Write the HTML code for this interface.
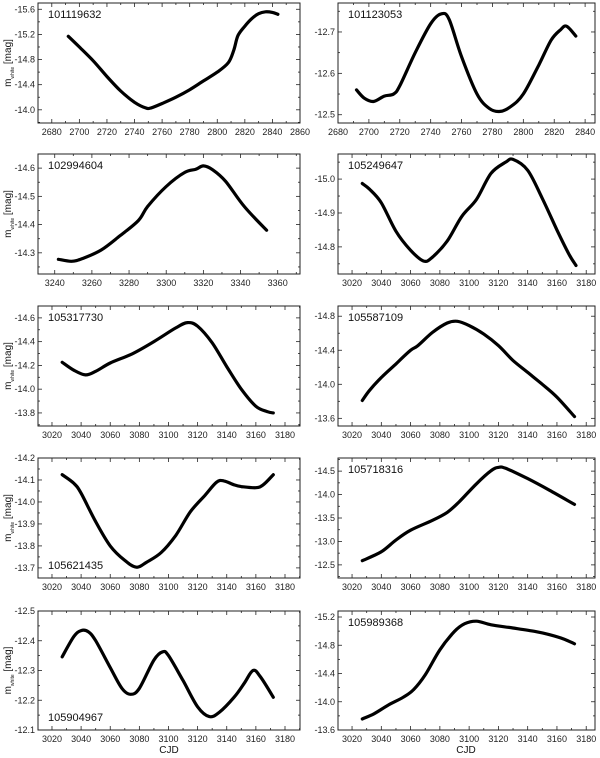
<!DOCTYPE html>
<html><head><meta charset="utf-8"><style>
html,body{margin:0;padding:0;background:#fff}
svg{display:block;font-family:"Liberation Sans",sans-serif}
</style></head><body>
<svg id="chart" width="600" height="758" viewBox="0 0 600 758"></svg>
<script>
const ids = ["101119632","101123053","102994604","105249647","105317730","105587109","105621435","105718316","105904967","105989368"];
const p1Cjd = [2692,2700,2710,2720,2730,2740,2748,2752,2760,2770,2780,2790,2800,2808,2812,2815,2820,2825,2830,2835,2840,2844];
const p1Mag = [-15.17,-15.0,-14.78,-14.53,-14.3,-14.12,-14.03,-14.03,-14.1,-14.2,-14.32,-14.46,-14.6,-14.75,-14.95,-15.18,-15.33,-15.45,-15.53,-15.56,-15.55,-15.52];
const p2Cjd = [2692,2697,2703,2710,2716,2720,2730,2740,2747,2752,2760,2770,2778,2785,2792,2800,2810,2818,2824,2828,2834];
const p2Mag = [-12.56,-12.54,-12.532,-12.545,-12.55,-12.57,-12.65,-12.72,-12.744,-12.73,-12.64,-12.55,-12.515,-12.508,-12.52,-12.55,-12.62,-12.68,-12.705,-12.714,-12.69];
const p3Cjd = [3242,3249,3255,3265,3275,3285,3290,3300,3310,3316,3320,3325,3332,3342,3354];
const p3Mag = [-14.277,-14.27,-14.28,-14.31,-14.36,-14.414,-14.464,-14.535,-14.585,-14.596,-14.608,-14.594,-14.553,-14.464,-14.38];
const p4Cjd = [3027,3032,3040,3050,3060,3069,3075,3085,3095,3105,3115,3125,3130,3140,3150,3160,3168,3173];
const p4Mag = [-14.987,-14.97,-14.93,-14.846,-14.79,-14.758,-14.77,-14.817,-14.89,-14.94,-15.017,-15.05,-15.058,-15.026,-14.943,-14.85,-14.78,-14.745];
const p5Cjd = [3027,3035,3043,3050,3060,3075,3090,3105,3113,3120,3130,3140,3150,3160,3168,3172];
const p5Mag = [-14.226,-14.16,-14.12,-14.15,-14.22,-14.297,-14.40,-14.516,-14.56,-14.53,-14.39,-14.19,-14.0,-13.856,-13.81,-13.8];
const p6Cjd = [3027,3032,3040,3050,3060,3065,3075,3085,3092,3100,3110,3120,3130,3140,3150,3160,3172];
const p6Mag = [-13.81,-13.93,-14.08,-14.24,-14.40,-14.455,-14.61,-14.72,-14.74,-14.69,-14.59,-14.455,-14.28,-14.14,-14.0,-13.85,-13.62];
const p7Cjd = [3027,3035,3040,3050,3060,3070,3078,3085,3095,3105,3115,3125,3133,3138,3145,3150,3160,3165,3172];
const p7Mag = [-14.124,-14.085,-14.04,-13.91,-13.80,-13.734,-13.703,-13.726,-13.77,-13.848,-13.955,-14.03,-14.09,-14.096,-14.078,-14.07,-14.065,-14.078,-14.124];
const p8Cjd = [3027,3040,3050,3060,3075,3085,3093,3105,3115,3120,3125,3140,3155,3172];
const p8Mag = [-12.59,-12.78,-13.03,-13.24,-13.45,-13.62,-13.84,-14.23,-14.51,-14.58,-14.56,-14.34,-14.09,-13.79];
const p9Cjd = [3027,3035,3040,3045,3050,3060,3068,3074,3080,3090,3096,3100,3110,3120,3128,3135,3145,3152,3158,3163,3172];
const p9Mag = [-12.346,-12.414,-12.434,-12.43,-12.40,-12.31,-12.24,-12.22,-12.24,-12.335,-12.363,-12.35,-12.266,-12.178,-12.145,-12.16,-12.21,-12.257,-12.30,-12.28,-12.21];
const p10Cjd = [3027,3035,3045,3055,3062,3070,3080,3090,3097,3105,3115,3130,3145,3155,3165,3172];
const p10Mag = [-13.756,-13.83,-13.955,-14.064,-14.17,-14.38,-14.736,-14.996,-15.105,-15.14,-15.09,-15.044,-14.996,-14.95,-14.886,-14.82];
const xTicksA = [2680,2700,2720,2740,2760,2780,2800,2820,2840,2860];
const xTicksB = [2680,2700,2720,2740,2760,2780,2800,2820,2840];
const xTicksC = [3240,3260,3280,3300,3320,3340,3360];
const xTicksD = [3020,3040,3060,3080,3100,3120,3140,3160,3180];
const yTicks1 = [-15.6,-15.2,-14.8,-14.4,-14.0];
const yTicks2 = [-12.7,-12.6,-12.5];
const yTicks3 = [-14.6,-14.5,-14.4,-14.3];
const yTicks4 = [-15.0,-14.9,-14.8];
const yTicks5 = [-14.6,-14.4,-14.2,-14.0,-13.8];
const yTicks6 = [-14.8,-14.4,-14.0,-13.6];
const yTicks7 = [-14.2,-14.1,-14.0,-13.9,-13.8,-13.7];
const yTicks8 = [-14.5,-14.0,-13.5,-13.0,-12.5];
const yTicks9 = [-12.5,-12.4,-12.3,-12.2,-12.1];
const yTicks10 = [-15.2,-14.8,-14.4,-14.0,-13.6];

const NS = "http://www.w3.org/2000/svg";
const svg = document.getElementById("chart");
function mk(tag, attrs, parent){const e=document.createElementNS(NS,tag);for(const k in attrs)e.setAttribute(k,attrs[k]);(parent||svg).appendChild(e);return e;}
function smoothPath(pts){
  let d="M"+pts[0][0].toFixed(1)+","+pts[0][1].toFixed(1);
  for(let i=0;i<pts.length-1;i++){
    const p0=pts[Math.max(0,i-1)],p1=pts[i],p2=pts[i+1],p3=pts[Math.min(pts.length-1,i+2)];
    const c1x=p1[0]+(p2[0]-p0[0])/6,c1y=p1[1]+(p2[1]-p0[1])/6;
    const c2x=p2[0]-(p3[0]-p1[0])/6,c2y=p2[1]-(p3[1]-p1[1])/6;
    d+=" C"+c1x.toFixed(1)+","+c1y.toFixed(1)+" "+c2x.toFixed(1)+","+c2y.toFixed(1)+" "+p2[0].toFixed(1)+","+p2[1].toFixed(1);
  }
  return d;
}

const tops=[3,154,306,458,611];
const panels=[
 {cjd:p1Cjd,mag:p1Mag,xd:[2670,2860],yd:[-15.7,-13.79],xt:xTicksA,yt:yTicks1,dec:1,lab:"top"},
 {cjd:p2Cjd,mag:p2Mag,xd:[2680,2846.4],yd:[-12.77,-12.48],xt:xTicksB,yt:yTicks2,dec:1,lab:"top"},
 {cjd:p3Cjd,mag:p3Mag,xd:[3231,3372],yd:[-14.65,-14.225],xt:xTicksC,yt:yTicks3,dec:1,lab:"top"},
 {cjd:p4Cjd,mag:p4Mag,xd:[3010.4,3186],yd:[-15.074,-14.72],xt:xTicksD,yt:yTicks4,dec:1,lab:"top"},
 {cjd:p5Cjd,mag:p5Mag,xd:[3010.4,3190.3],yd:[-14.70,-13.69],xt:xTicksD,yt:yTicks5,dec:1,lab:"top"},
 {cjd:p6Cjd,mag:p6Mag,xd:[3010.4,3186],yd:[-14.92,-13.51],xt:xTicksD,yt:yTicks6,dec:1,lab:"top"},
 {cjd:p7Cjd,mag:p7Mag,xd:[3010.4,3190.3],yd:[-14.2,-13.654],xt:xTicksD,yt:yTicks7,dec:1,lab:"bottom"},
 {cjd:p8Cjd,mag:p8Mag,xd:[3010.4,3186],yd:[-14.78,-12.22],xt:xTicksD,yt:yTicks8,dec:1,lab:"top"},
 {cjd:p9Cjd,mag:p9Mag,xd:[3010.4,3190.3],yd:[-12.5,-12.1],xt:xTicksD,yt:yTicks9,dec:1,lab:"bottom"},
 {cjd:p10Cjd,mag:p10Mag,xd:[3010.4,3186],yd:[-15.285,-13.6],xt:xTicksD,yt:yTicks10,dec:1,lab:"top"}
];

panels.forEach((p,i)=>{
  const col=i%2,row=Math.floor(i/2);
  const L=col?338:38, R=col?595:300, T=tops[row], B=T+(row===4?119:120);
  const g=mk("g",{});
  
  
  const sx=v=>L+(v-p.xd[0])/(p.xd[1]-p.xd[0])*(R-L);
  const sy=v=>T+(v-p.yd[0])/(p.yd[1]-p.yd[0])*(B-T);
  const xs=p.xt[1]-p.xt[0];
  const xAll=[];for(let v=p.xt[0]-xs/2;v<=p.xd[1]+1e-6;v+=xs/2){if(v>=p.xd[0]-1e-6)xAll.push(v);}
  const xTickG=mk("g",{},g);
  
  
  xAll.forEach(v=>{const major=Math.abs(((v-p.xt[0])/xs)-Math.round((v-p.xt[0])/xs))<1e-6;const len=major?4:2;const x=sx(v);
    mk("line",{x1:x,x2:x,y1:B,y2:B-len,stroke:"#222","stroke-width":0.8},xTickG);
    mk("line",{x1:x,x2:x,y1:T,y2:T+len,stroke:"#222","stroke-width":0.8},xTickG);});
  p.xt.forEach(v=>{const t=mk("text",{x:sx(v),y:B+12,"font-size":9,"text-anchor":"middle",fill:"#222"},xTickG);t.textContent=v;});
  const ys=p.yt[1]-p.yt[0];
  const yTickG=mk("g",{},g);
  
  
  const lo=Math.min(p.yd[0],p.yd[1]),hi=Math.max(p.yd[0],p.yd[1]);
  for(let k=-4;k<=2*p.yt.length+4;k++){const v=p.yt[0]+k*ys/2;if(v<lo-1e-6||v>hi+1e-6)continue;const len=(k%2===0)?4:2;const y=sy(v);
    mk("line",{x1:L,x2:L+len,y1:y,y2:y,stroke:"#222","stroke-width":0.8},yTickG);
    mk("line",{x1:R,x2:R-len,y1:y,y2:y,stroke:"#222","stroke-width":0.8},yTickG);}
  p.yt.forEach(v=>{const t=mk("text",{x:L-3,y:sy(v)+3,"font-size":9,"text-anchor":"end",fill:"#222"},yTickG);t.textContent=v.toFixed(p.dec);});
  const fr=mk("rect",{x:L,y:T,width:R-L,height:B-T,fill:"none",stroke:"#222","stroke-width":1},g);
  
  
  const pts=p.cjd.map((c,j)=>[sx(c),sy(p.mag[j])]);
  const path=mk("path",{d:smoothPath(pts),fill:"none",stroke:"#000","stroke-width":3.2,"stroke-linecap":"round","stroke-linejoin":"round"},g);
  
  
  const lt=mk("text",{x:L+10,y:p.lab==="top"?T+15:B-9,"font-size":11,fill:"#111"},g);
  lt.textContent=ids[i];
  
  
  if(col===0){
    const yl=mk("text",{x:0,y:0,"font-size":10,"text-anchor":"middle",fill:"#111",transform:"translate(11,"+((T+B)/2)+") rotate(-90)"},g);
    yl.innerHTML='m<tspan font-size="5" dy="3">white</tspan><tspan dy="-3"> [mag]</tspan>';
    
    
  }
});
[[169],[466]].forEach(a=>{
  const t=mk("text",{x:a[0],y:753,"font-size":10,"text-anchor":"middle",fill:"#111"});
  t.textContent="CJD";
  
  
});
</script>
</body></html>
